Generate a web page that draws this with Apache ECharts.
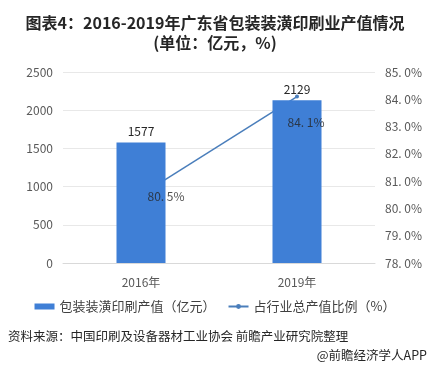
<!DOCTYPE html>
<html><head><meta charset="utf-8">
<script src="https://cdn.jsdelivr.net/npm/echarts@6/dist/echarts.min.js"></script>
<style>html,body{margin:0;padding:0;background:#fff}#c{width:430px;height:370px}</style>
</head><body><div id="c"></div>
<script>
const categories = ['2016年', '2019年'];
const outputValue = [1577, 2129];
const sharePct = [80.5, 84.1];
const leftTicks = [0, 2500, 500];
const rightTicks = [78, 85, 1];

const labelOffsets = [[25, 2], [9, 26]];
const chart = echarts.init(document.getElementById('c'));
const fam = '"Microsoft YaHei","Noto Sans CJK SC",sans-serif';
const pctFmt = v => v.toFixed(1).replace('.', '. ') + '%';
chart.setOption({
  backgroundColor: '#fff',
  animation: false,
  title: {
    text: '图表4：2016-2019年广东省包装装潢印刷业产值情况\n(单位：亿元，%)',
    left: 'center', top: 8,
    textStyle: { fontSize: 16, fontWeight: 'bold', color: '#262626', lineHeight: 20, fontFamily: fam }
  },
  graphic: [
    { type: 'text', left: 8, top: 330, style: { text: '资料来源：中国印刷及设备器材工业协会 前瞻产业研究院整理', fontSize: 12.5, fill: '#262626', fontFamily: fam } },
    { type: 'text', right: 3, top: 349, style: { text: '@前瞻经济学人APP', fontSize: 12.5, fill: '#262626', fontFamily: fam } }
  ],
  legend: {
    top: 295, left: 'center', itemGap: 12,
    textStyle: { fontSize: 13, color: '#404040', fontFamily: fam },
    data: [
      { name: '包装装潢印刷产值（亿元）', icon: 'rect', itemStyle: { color: '#3f7fd6' } },
      { name: '占行业总产值比例（%）' }
    ],
    itemWidth: 20, itemHeight: 6
  },
  grid: { left: 63, right: 55, top: 72, bottom: 107 },
  xAxis: {
    type: 'category', data: categories,
    axisLine: { lineStyle: { color: '#d9d9d9' } },
    axisTick: { show: false },
    axisLabel: { fontSize: 12, color: '#595959', margin: 13, fontFamily: fam }
  },
  yAxis: [
    {
      type: 'value', min: leftTicks[0], max: leftTicks[1], interval: leftTicks[2],
      axisLine: { show: false }, axisTick: { show: false },
      axisLabel: { fontSize: 12, color: '#595959', margin: 10, fontFamily: fam, formatter: v => String(v) },
      splitLine: { lineStyle: { color: '#e8e8e8' } }
    },
    {
      type: 'value', min: rightTicks[0], max: rightTicks[1], interval: rightTicks[2],
      axisLine: { show: false }, axisTick: { show: false },
      axisLabel: { fontSize: 12, color: '#595959', margin: 10, fontFamily: fam, formatter: pctFmt },
      splitLine: { show: false }
    }
  ],
  series: [
    {
      name: '包装装潢印刷产值（亿元）', type: 'bar', data: outputValue, barWidth: 49, z: 3,
      itemStyle: { color: '#3f7fd6' },
      label: { show: true, position: 'top', fontSize: 12, color: '#262626', distance: 5, fontFamily: fam }
    },
    {
      name: '占行业总产值比例（%）', type: 'line', yAxisIndex: 1, data: sharePct, z: 2,
      symbol: 'circle', symbolSize: 4,
      lineStyle: { color: '#4a7ebb', width: 1.5 },
      itemStyle: { color: '#4a7ebb' }
    },
    {
      name: 'lineLabels', type: 'scatter', yAxisIndex: 1, z: 6, symbolSize: 0, silent: true,
      data: sharePct.map((v, i) => ({
        value: v,
        label: { show: true, position: 'inside', offset: labelOffsets[i], fontSize: 12, color: '#262626', fontFamily: fam, formatter: p => pctFmt(p.value) }
      }))
    }
  ]
});
</script></body></html>
